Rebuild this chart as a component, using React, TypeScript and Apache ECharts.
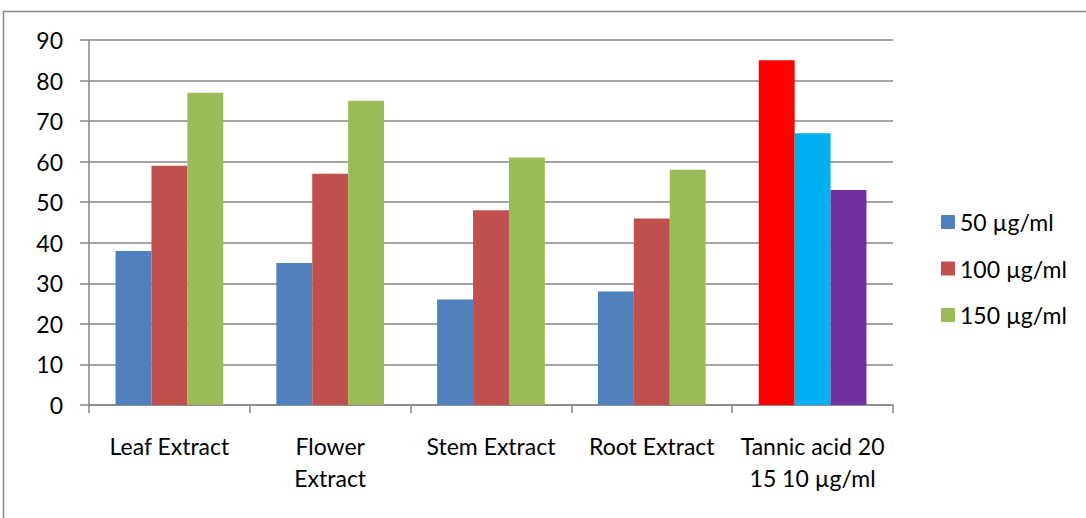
import React, { useEffect, useRef } from "react";
import * as echarts from "echarts";

const categories = ["Leaf Extract", "Flower\nExtract", "Stem Extract", "Root Extract", "Tannic acid 20\n15 10 µg/ml"];
const seriesNames = ["50 µg/ml", "100 µg/ml", "150 µg/ml"];
const values50 = [38, 35, 26, 28, 85];
const values100 = [59, 57, 48, 46, 67];
const values150 = [77, 75, 61, 58, 53];
const seriesColors = ["#4F81BD", "#C0504D", "#9BBB59"];
const standardColors = ["#FF0000", "#00B0F0", "#7030A0"];
const yTicks = { min: 0, max: 90, interval: 10 };

const FONT = "Lato, 'Open Sans', sans-serif";

export default function App() {
  const ref = useRef<HTMLDivElement>(null);
  useEffect(() => {
    if (!ref.current) return;
    const chart = echarts.init(ref.current, null, { renderer: "svg" });
    const all = [values50, values100, values150];
    chart.setOption({
      animation: false,
      backgroundColor: "#ffffff",
      textStyle: { fontFamily: FONT },
      graphic: [
        {
          type: "rect",
          shape: { x: 3.5, y: 11.5, width: 1200, height: 700 },
          style: { fill: "none", stroke: "#8a8a8a", lineWidth: 1.5 },
          silent: true,
        },
      ],
      legend: {
        orient: "vertical",
        left: 936,
        top: 205,
        itemWidth: 14,
        itemHeight: 14,
        itemGap: 22.5,
        icon: "rect",
        textStyle: { fontSize: 23, color: "#000", fontFamily: FONT, lineHeight: 24 },
        data: seriesNames,
      },
      grid: { left: 89, right: 193, top: 40, bottom: 113 },
      xAxis: {
        type: "category",
        data: categories,
        axisLine: { lineStyle: { color: "#868686", width: 1.5 } },
        axisTick: { show: true, length: 8, lineStyle: { color: "#868686", width: 1.5 } },
        axisLabel: {
          fontSize: 23,
          color: "#000",
          lineHeight: 32,
          margin: 25,
          interval: 0,
          fontFamily: FONT,
        },
      },
      yAxis: {
        type: "value",
        min: yTicks.min,
        max: yTicks.max,
        interval: yTicks.interval,
        axisLine: { show: true, lineStyle: { color: "#868686", width: 1.5 } },
        axisTick: { show: true, length: 9, lineStyle: { color: "#868686", width: 1.5 } },
        splitLine: { lineStyle: { color: "#868686", width: 1.5 } },
        axisLabel: { fontSize: 23, color: "#000", margin: 26, fontFamily: FONT },
      },
      series: seriesNames.map((name, si) => ({
        name,
        type: "bar",
        barGap: "0%",
        barCategoryGap: "33%",
        itemStyle: { color: seriesColors[si] },
        data: all[si].map((v, ci) =>
          ci === categories.length - 1
            ? { value: v, itemStyle: { color: standardColors[si] } }
            : v
        ),
      })),
    });
    return () => chart.dispose();
  }, []);
  return (
    <div
      ref={ref}
      style={{ position: "fixed", left: 0, top: 0, width: 1086, height: 518 }}
    />
  );
}
